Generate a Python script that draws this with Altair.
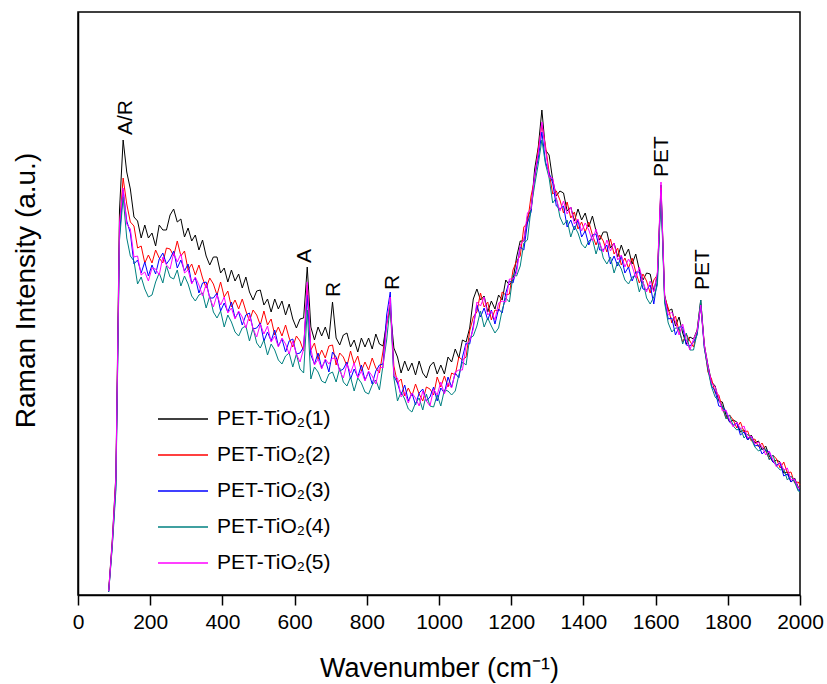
import altair as alt
import pandas as pd

# Raman shift grid (cm^-1)
wavenumber = list(range(85, 2000, 10)) + [2000]

series_names = ["PET-TiO\u2082(1)", "PET-TiO\u2082(2)", "PET-TiO\u2082(3)",
                "PET-TiO\u2082(4)", "PET-TiO\u2082(5)"]
series_colors = ["#000000", "#ff0000", "#0000ff", "#008080", "#ff00ff"]

s1 = [5, 55, 120, 385, 455, 423, 406, 378, 374, 357,
      370, 357, 362, 349, 370, 365, 365, 380, 386, 373,
      376, 358, 367, 354, 360, 345, 355, 339, 330, 338,
      338, 322, 327, 313, 325, 314, 321, 307, 318, 303,
      295, 304, 305, 290, 296, 283, 296, 286, 294, 280,
      291, 276, 267, 276, 277, 328, 268, 255, 268, 259,
      268, 256, 293, 257, 250, 260, 262, 248, 255, 243,
      257, 248, 257, 246, 261, 251, 249, 273, 285, 247,
      238, 222, 234, 224, 232, 220, 234, 222, 217, 229,
      233, 221, 230, 221, 238, 233, 246, 237, 255, 253,
      267, 296, 306, 295, 299, 283, 294, 286, 300, 295,
      315, 310, 315, 338, 354, 354, 378, 385, 426, 448,
      485, 445, 440, 415, 399, 404, 402, 384, 388, 374,
      386, 375, 382, 368, 379, 364, 355, 363, 363, 347,
      352, 338, 350, 339, 346, 331, 341, 325, 315, 322,
      321, 304, 320, 410, 300, 284, 286, 269, 278, 262,
      251, 258, 256, 265, 295, 250, 230, 213, 209, 194,
      193, 180, 173, 175, 173, 163, 165, 155, 160, 152,
      154, 145, 149, 139, 133, 135, 133, 122, 123, 113,
      117, 108, 106]

s2 = [4, 52, 115, 370, 417, 391, 373, 369, 347, 349,
      332, 340, 332, 345, 337, 332, 347, 346, 339, 354,
      339, 344, 325, 331, 320, 330, 317, 307, 317, 311,
      300, 313, 298, 304, 288, 295, 286, 296, 284, 274,
      285, 280, 270, 284, 270, 276, 260, 268, 259, 270,
      257, 248, 259, 254, 244, 310, 245, 252, 236, 245,
      237, 249, 250, 230, 242, 238, 229, 244, 231, 239,
      224, 233, 225, 237, 227, 222, 244, 270, 290, 229,
      212, 216, 199, 207, 199, 211, 201, 194, 208, 206,
      200, 218, 208, 219, 208, 222, 220, 238, 235, 238,
      264, 278, 283, 302, 288, 293, 275, 285, 284, 303,
      300, 301, 325, 334, 339, 368, 372, 399, 416, 446,
      470, 449, 423, 401, 404, 395, 382, 393, 377, 383,
      366, 373, 363, 373, 360, 350, 360, 354, 343, 356,
      341, 347, 330, 337, 327, 337, 323, 312, 321, 314,
      302, 315, 320, 407, 298, 287, 272, 279, 264, 253,
      261, 254, 248, 263, 290, 250, 223, 216, 202, 200,
      187, 177, 180, 175, 167, 173, 163, 164, 154, 156,
      148, 152, 144, 136, 140, 136, 127, 133, 122, 123,
      112, 113, 110]

s3 = [3, 50, 110, 360, 405, 374, 362, 331, 335, 322,
      333, 319, 330, 321, 336, 342, 331, 336, 344, 327,
      335, 324, 331, 312, 317, 302, 312, 313, 297, 297,
      302, 284, 292, 283, 293, 277, 283, 270, 280, 282,
      266, 267, 272, 254, 263, 254, 265, 249, 256, 243,
      254, 256, 241, 242, 248, 300, 240, 231, 242, 227,
      235, 223, 243, 238, 224, 226, 233, 216, 226, 218,
      230, 215, 223, 211, 224, 230, 231, 280, 303, 219,
      212, 200, 210, 194, 202, 190, 202, 206, 194, 198,
      208, 194, 207, 202, 218, 208, 222, 217, 238, 252,
      251, 269, 290, 278, 287, 275, 285, 271, 286, 282,
      302, 314, 312, 327, 348, 345, 372, 383, 419, 437,
      463, 433, 422, 412, 389, 386, 389, 368, 375, 365,
      375, 358, 364, 350, 360, 361, 345, 345, 350, 331,
      339, 329, 339, 322, 328, 314, 323, 323, 306, 305,
      310, 291, 315, 405, 295, 276, 277, 260, 268, 268,
      250, 249, 253, 260, 290, 247, 228, 209, 204, 189,
      188, 184, 173, 170, 172, 160, 163, 155, 159, 149,
      150, 141, 145, 143, 133, 130, 132, 119, 121, 113,
      116, 105, 104]

s4 = [3, 48, 105, 355, 398, 357, 339, 334, 311, 318,
      306, 298, 300, 313, 322, 312, 329, 318, 316, 325,
      309, 319, 311, 299, 294, 300, 302, 287, 299, 283,
      277, 284, 268, 280, 273, 263, 259, 267, 269, 254,
      267, 252, 247, 255, 240, 251, 245, 235, 231, 239,
      242, 228, 241, 226, 222, 285, 216, 228, 223, 214,
      212, 221, 223, 213, 227, 213, 209, 218, 204, 217,
      212, 203, 201, 210, 215, 205, 230, 255, 290, 217,
      194, 203, 196, 186, 183, 192, 197, 185, 201, 189,
      188, 200, 189, 205, 204, 200, 204, 220, 233, 230,
      257, 259, 269, 284, 268, 277, 269, 262, 267, 285,
      297, 293, 320, 319, 329, 352, 355, 387, 410, 431,
      455, 431, 417, 392, 397, 378, 370, 375, 358, 369,
      362, 351, 347, 354, 356, 341, 353, 337, 331, 338,
      322, 333, 326, 315, 311, 318, 319, 303, 314, 297,
      291, 298, 310, 400, 292, 272, 263, 267, 267, 251,
      262, 245, 245, 262, 295, 247, 225, 208, 198, 194,
      189, 176, 180, 169, 165, 167, 157, 161, 156, 148,
      144, 146, 146, 135, 140, 129, 125, 126, 115, 119,
      113, 104, 103]

s5 = [4, 53, 118, 372, 407, 371, 366, 338, 339, 320,
      323, 314, 327, 326, 320, 338, 330, 326, 342, 333,
      341, 322, 325, 311, 318, 310, 299, 311, 297, 288,
      300, 290, 298, 282, 287, 276, 284, 278, 267, 280,
      266, 258, 271, 261, 269, 253, 259, 248, 257, 251,
      241, 254, 241, 233, 246, 313, 246, 230, 236, 226,
      236, 231, 237, 236, 224, 217, 231, 222, 232, 217,
      224, 214, 224, 219, 211, 228, 227, 270, 298, 219,
      217, 198, 203, 192, 202, 197, 189, 204, 194, 189,
      206, 200, 213, 201, 212, 207, 223, 225, 225, 250,
      254, 266, 293, 289, 298, 280, 284, 275, 292, 294,
      293, 316, 316, 322, 350, 355, 382, 386, 420, 442,
      473, 446, 418, 417, 396, 384, 394, 381, 388, 371,
      376, 364, 372, 365, 354, 366, 352, 343, 355, 344,
      352, 335, 340, 328, 336, 329, 317, 328, 313, 303,
      314, 303, 323, 413, 299, 280, 283, 273, 260, 271,
      255, 245, 256, 264, 290, 250, 229, 212, 208, 197,
      184, 185, 175, 168, 173, 166, 169, 157, 159, 151,
      153, 148, 140, 144, 135, 128, 133, 125, 127, 115,
      116, 107, 107]

# Peak annotations
peak_labels = ["A/R", "A", "R", "R", "PET", "PET"]
peak_x = [133, 629, 710, 873, 1618, 1732]
peak_y = [460, 332, 298, 305, 418, 305]

x_ticks = list(range(0, 2001, 100))

rows = []
for name, vals in zip(series_names, [s1, s2, s3, s4, s5]):
    for w, v in zip(wavenumber, vals):
        rows.append({"series": name, "wavenumber": w, "intensity": v})
df = pd.DataFrame(rows)

ann = pd.DataFrame({"label": peak_labels, "wavenumber": peak_x, "intensity": peak_y})

FONT = "Liberation Sans"

x_enc = alt.X(
    "wavenumber:Q",
    scale=alt.Scale(domain=[0, 2000], nice=False, zero=False),
    axis=alt.Axis(
        title="Wavenumber (cm\u207b\u00b9)",
        values=x_ticks,
        format="d",
        labelExpr="datum.value % 200 === 0 ? datum.label : ''",
        tickSize={"condition": {"test": "datum.value % 200 === 0", "value": 10}, "value": 6},
        grid=False,
        labelFontSize=21,
        titleFontSize=27,
        labelPadding=6,
        titlePadding=23,
        labelFlush=False,
    ),
)
y_enc = alt.Y(
    "intensity:Q",
    scale=alt.Scale(domain=[0, 583], nice=False, zero=False),
    axis=alt.Axis(
        title="Raman Intensity (a.u.)",
        labels=False,
        ticks=False,
        grid=False,
        titleFontSize=28,
        titlePadding=38,
        titleY=278,
    ),
)

lines = alt.Chart(df).mark_line(strokeWidth=1).encode(
    x=x_enc,
    y=y_enc,
    color=alt.Color(
        "series:N",
        scale=alt.Scale(domain=series_names, range=series_colors),
        sort=series_names,
        legend=alt.Legend(
            title=None,
            orient="none",
            legendX=79,
            legendY=381,
            symbolType="stroke",
            symbolSize=2500,
            symbolStrokeWidth=1.5,
            labelFontSize=21,
            labelFont=FONT,
            labelOffset=8,
            rowPadding=0,
            labelColor="#000000",
        ),
    ),
)

labels = alt.Chart(ann).mark_text(
    angle=270, align="left", baseline="middle", fontSize=21, font=FONT, color="#000000"
).encode(
    x="wavenumber:Q",
    y="intensity:Q",
    text="label:N",
)

chart = alt.layer(lines, labels).properties(
    width=722,
    height=583,
    autosize=alt.AutoSizeParams(type="none"),
    padding={"left": 78, "top": 12, "right": 27, "bottom": 89},
).configure(
    font=FONT,
).configure_view(
    stroke="#000000",
    strokeWidth=1.5,
).configure_axis(
    domainColor="#000000",
    domainWidth=1.5,
    tickColor="#000000",
    tickWidth=1.5,
    labelColor="#000000",
    titleColor="#000000",
    labelFont=FONT,
    titleFont=FONT,
    titleFontWeight="normal",
)

chart.save("out.html", embed_options={"renderer": "svg", "actions": False})
